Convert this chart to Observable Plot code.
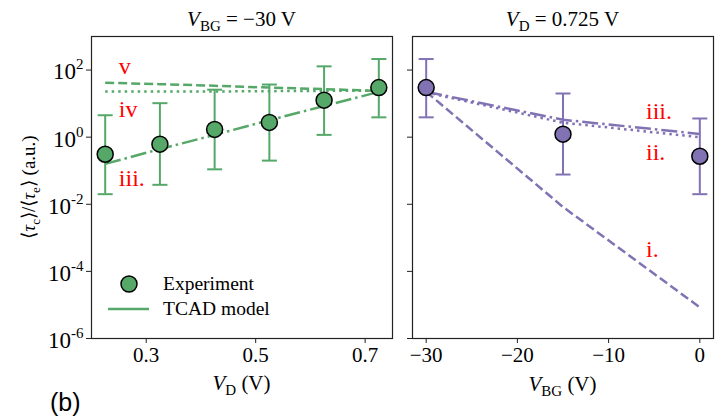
<!DOCTYPE html>
<html><head><meta charset="utf-8">
<script src="https://cdn.jsdelivr.net/npm/d3@7"></script>
<script src="https://cdn.jsdelivr.net/npm/@observablehq/plot@0.6"></script>
<style>
body{margin:0;background:#fff;}
#chart{position:relative;width:717px;height:418px;overflow:hidden;}
#chart svg{position:absolute;top:0;overflow:visible;font-family:"Liberation Serif",serif;}
#chart svg text, #chart svg tspan{font-family:"Liberation Serif",serif;}
#chart svg text.tag, #chart svg text.tag tspan{font-family:"Liberation Sans",sans-serif;}
</style></head><body><div id="chart"></div>
<script>
// ---- data (left panel: V_BG = -30 V, vs V_D) ----
const vd = [0.225, 0.325, 0.425, 0.525, 0.625, 0.725];
const ratioVd = [0.31, 0.62, 1.7, 2.75, 12.7, 30];
const ratioVdLo = [0.02, 0.038, 0.11, 0.2, 1.17, 3.9];
const ratioVdHi = [4.5, 10.3, 26, 37, 129, 213];
const modelVdV = [42, 38, 34, 30, 27, 24];        // v. (dashed)
const modelVdIV = [23, 23, 23, 23.5, 24, 24];     // iv (dotted)
const modelVdIII = [0.16, 0.44, 1.17, 3.2, 8.5, 22.4]; // iii. (dash-dot)

// ---- data (right panel: V_D = 0.725 V, vs V_BG) ----
const vbg = [-30, -15, 0];
const ratioVbg = [30, 1.23, 0.27];
const ratioVbgLo = [3.9, 0.077, 0.02];
const ratioVbgHi = [213, 20, 3.6];
const modelVbgI = [22.5, 0.0083, 8.5e-6];   // i. (dashed)
const modelVbgII = [21.5, 2.7, 1.0];        // ii. (dotted)
const modelVbgIII = [22.5, 3.3, 1.25];      // iii. (dash-dot)

// ---- ticks & annotation labels ----
const yTicks = [1e-6, 1e-4, 1e-2, 1, 1e2];
const xTicksVd = [0.3, 0.5, 0.7];
const xTicksVbg = [-30, -20, -10, 0];
const labelsVd = [
  {text: "v", x: 0.25, y: 129},
  {text: "iv", x: 0.25, y: 6.7},
  {text: "iii.", x: 0.25, y: 0.059}
];
const labelsVbg = [
  {text: "iii.", x: -5.9, y: 5.9},
  {text: "ii.", x: -5.9, y: 0.35},
  {text: "i.", x: -5.9, y: 4.5e-4}
];

const green = "#55a868";
const purple = "#8172b3";
const serif = "Liberation Serif";
const DASH = "9,4", DOT = "2.5,4", DASHDOT = "16,4,2.5,4";

const capSymbol = {draw(ctx, size) { const w = Math.sqrt(size / Math.PI); ctx.moveTo(-w, 0); ctx.lineTo(w, 0); }};

const leftTable = vd.map((x, i) => ({x, y: ratioVd[i], lo: ratioVdLo[i], hi: ratioVdHi[i], v: modelVdV[i], iv: modelVdIV[i], iii: modelVdIII[i]}));
const rightTable = vbg.map((x, i) => ({x, y: ratioVbg[i], lo: ratioVbgLo[i], hi: ratioVbgHi[i], i1: modelVbgI[i], ii: modelVbgII[i], iii: modelVbgIII[i]}));

function panel(table, lines, color, xDomain, xTicks, xFmt, showYLabels, labels, dims) {
  return Plot.plot({
    width: dims.width, height: 418,
    marginLeft: dims.ml, marginRight: dims.mr, marginTop: 36, marginBottom: 80,
    style: {fontFamily: serif, fontSize: "21px", color: "#000", background: "transparent", overflow: "visible"},
    x: {domain: xDomain},
    y: {type: "log", domain: [1e-6, 1e3]},
    marks: [
      ...lines.map(([key, dash]) => Plot.line(table, {x: "x", y: key, stroke: color, strokeWidth: 2.5, strokeDasharray: dash, strokeLinecap: "butt"})),
      Plot.ruleX(table, {x: "x", y1: "lo", y2: "hi", stroke: color, strokeWidth: 2}),
      Plot.dot(table, {x: "x", y: "lo", symbol: capSymbol, r: 7.5, stroke: color, strokeWidth: 2, fill: "none"}),
      Plot.dot(table, {x: "x", y: "hi", symbol: capSymbol, r: 7.5, stroke: color, strokeWidth: 2, fill: "none"}),
      Plot.dot(table, {x: "x", y: "y", r: 8, fill: color, stroke: "#000", strokeWidth: 1.5}),
      Plot.text(labels, {x: "x", y: "y", text: "text", fill: "#ff0000", fontSize: 24, textAnchor: "start"}),
      Plot.frame({stroke: "#222", strokeWidth: 1.2}),
      Plot.axisX(xTicks, {tickSize: 5, tickPadding: 4, tickFormat: xFmt, label: null, stroke: "#222"}),
      Plot.axisY(yTicks, {tickSize: 5, tickPadding: 3, label: null, stroke: "#222",
        tickFormat: showYLabels ? (d => String(Math.round(Math.log10(d)))) : (() => ""), fontSize: 23})
    ]
  });
}

const left = panel(leftTable, [["v", DASH], ["iv", DOT], ["iii", DASHDOT]], green,
  [0.2, 0.75], xTicksVd, d => d.toFixed(1), true, labelsVd, {width: 400, ml: 91, mr: 8});
const right = panel(rightTable, [["i1", DASH], ["ii", DOT], ["iii", DASHDOT]], purple,
  [-31.5, 1.5], xTicksVbg, d => d < 0 ? "\u2212" + Math.abs(d) : String(d), false, labelsVbg, {width: 317, ml: 12, mr: 4});

const chart = document.getElementById("chart");
left.style.left = "0px";
right.style.left = "400px";
chart.append(left, right);

const NS = "http://www.w3.org/2000/svg";
// superscript exponents on y tick labels
left.querySelectorAll('[aria-label="y-axis tick label"] text').forEach(t => {
  const e = t.textContent;
  t.textContent = "";
  const base = document.createElementNS(NS, "tspan");
  base.setAttribute("dy", "2");
  base.textContent = "10";
  const sup = document.createElementNS(NS, "tspan");
  sup.setAttribute("dy", "-10");
  sup.setAttribute("font-size", "15");
  sup.textContent = e;
  t.append(base, sup);
});

function addText(svg, x, y, parts, opts = {}) {
  const t = document.createElementNS(NS, "text");
  t.setAttribute("x", x); t.setAttribute("y", y);
  t.setAttribute("text-anchor", opts.anchor || "middle");
  t.setAttribute("font-size", opts.size || 21);
  t.setAttribute("fill", "#000");
  if (opts.cls) t.setAttribute("class", opts.cls);
  if (opts.transform) t.setAttribute("transform", opts.transform);
  let shift = 0;
  for (const p of parts) {
    const s = document.createElementNS(NS, "tspan");
    const target = p.sub ? 5 : 0;
    if (target !== shift) { s.setAttribute("dy", target - shift); shift = target; }
    if (p.sub) s.setAttribute("font-size", Math.round((opts.size || 21) * 0.7));
    if (p.italic) s.setAttribute("font-style", "italic");
    s.textContent = p.t;
    t.append(s);
  }
  svg.append(t);
  return t;
}

// titles
addText(left, 241.5, 26, [{t: "V", italic: true}, {t: "BG", sub: true}, {t: " = \u221230 V"}]);
addText(right, 162.5, 26, [{t: "V", italic: true}, {t: "D", sub: true}, {t: " = 0.725 V"}]);
// x labels
addText(left, 241.5, 390, [{t: "V", italic: true}, {t: "D", sub: true}, {t: " (V)"}]);
addText(right, 162.5, 391, [{t: "V", italic: true}, {t: "BG", sub: true}, {t: " (V)"}]);
// y label
addText(left, 0, 0, [{t: "\u27e8"}, {t: "\u03c4", italic: true}, {t: "c", sub: true}, {t: "\u27e9/\u27e8"}, {t: "\u03c4", italic: true}, {t: "e", sub: true}, {t: "\u27e9 (a.u.)"}],
  {transform: "translate(35,187) rotate(-90)", size: 19});
// panel tag
addText(left, 50, 411, [{t: "(b)"}], {anchor: "start", size: 25, cls: "tag"});

// legend
const lg = document.createElementNS(NS, "g");
const c = document.createElementNS(NS, "circle");
c.setAttribute("cx", 129); c.setAttribute("cy", 284); c.setAttribute("r", 8);
c.setAttribute("fill", green); c.setAttribute("stroke", "#000"); c.setAttribute("stroke-width", 1.5);
const ln = document.createElementNS(NS, "line");
ln.setAttribute("x1", 108); ln.setAttribute("x2", 149); ln.setAttribute("y1", 309); ln.setAttribute("y2", 309);
ln.setAttribute("stroke", green); ln.setAttribute("stroke-width", 2.5);
lg.append(c, ln);
left.append(lg);
addText(left, 163, 290, [{t: "Experiment"}], {anchor: "start", size: 19.5});
addText(left, 163, 315, [{t: "TCAD model"}], {anchor: "start", size: 19.5});
</script></body></html>
